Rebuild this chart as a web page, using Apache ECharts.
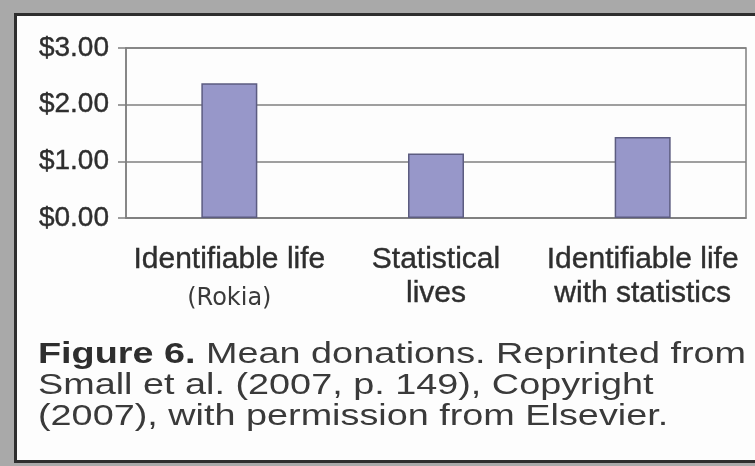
<!DOCTYPE html>
<html>
<head>
<meta charset="utf-8">
<script src="https://cdn.jsdelivr.net/npm/echarts@6/dist/echarts.min.js"></script>
<style>
  html, body { margin: 0; padding: 0; background: #a9a9a9; }
  #chart { width: 755px; height: 466px; }
</style>
</head>
<body>
<div id="chart"></div>
<script>
// Data
var categoryLine1 = ['Identifiable life', 'Statistical', 'Identifiable life'];
var categoryLine2 = ['(Rokia)', 'lives', 'with statistics'];
var meanDonations = [2.38, 1.14, 1.43];
var yTickLabels = ['$0.00', '$1.00', '$2.00', '$3.00'];
var captionBold = 'Figure 6.';
var captionLines = [
  ' Mean donations. Reprinted from',
  'Small et al. (2007, p. 149), Copyright',
  '(2007), with permission from Elsevier.'
];

var categories = categoryLine1.map(function (t, i) { return t + '\n' + categoryLine2[i]; });

var chart = echarts.init(document.getElementById('chart'), null, { renderer: 'canvas' });

var textColor = '#2e2e2e';
var lineColor = '#7f7f7f';
var capFont = 'Liberation Sans, Arial, sans-serif';
var capScale = 1.26;
var capSize = 30;
var capY = [355, 386, 417];

var option = {
  backgroundColor: '#a9a9a9',
  animation: false,
  grid: {
    left: 126, right: 9, top: 48, bottom: 248,
    show: true, borderColor: lineColor, borderWidth: 1.5,
    backgroundColor: 'transparent'
  },
  xAxis: {
    type: 'category',
    data: categories,
    axisTick: { show: false },
    axisLine: { show: true, lineStyle: { color: lineColor, width: 1.5 } },
    axisLabel: {
      margin: 25,
      interval: 0,
      formatter: function (v, i) {
        var parts = v.split('\n');
        var second = (i === 0) ? 'r' : 'a';
        return '{a|' + parts[0] + '}\n{' + second + '|' + parts[1] + '}';
      },
      rich: {
        a: { fontFamily: capFont, fontSize: 30, lineHeight: 34, color: textColor, textBorderColor: textColor, textBorderWidth: 0.4 },
        r: { fontFamily: 'DejaVu Sans, sans-serif', fontSize: 24, lineHeight: 43, color: '#3a3a3a' }
      }
    }
  },
  yAxis: {
    type: 'value',
    min: 0, max: 3, interval: 1,
    axisLine: { show: true, lineStyle: { color: lineColor, width: 1.5 } },
    axisTick: { show: true, length: 8, lineStyle: { color: lineColor, width: 1.5 } },
    splitLine: { show: true, lineStyle: { color: lineColor, width: 1.5 } },
    axisLabel: {
      margin: 17,
      fontFamily: capFont,
      fontSize: 28,
      color: textColor,
      textBorderColor: textColor,
      textBorderWidth: 0.4,
      formatter: function (v) { return yTickLabels[Math.round(v)]; }
    }
  },
  series: [{
    type: 'bar',
    data: meanDonations,
    barWidth: 56,
    itemStyle: { color: '#9797c9', borderColor: '#5c5c80', borderWidth: 1.5 }
  }],
  graphic: [
    {
      type: 'rect', z: -100, silent: true,
      shape: { x: 15.5, y: 14.5, width: 800, height: 447 },
      style: { fill: '#fdfdfd', stroke: '#2e2e2e', lineWidth: 3 }
    },
    {
      type: 'text', x: 38, y: capY[0], scaleX: capScale, z: 10,
      style: {
        text: '{b|' + captionBold + '}{n|' + captionLines[0] + '}',
        verticalAlign: 'middle',
        rich: {
          b: { fontFamily: capFont, fontSize: capSize, fontWeight: 'bold', fill: textColor },
          n: { fontFamily: capFont, fontSize: capSize, fill: '#3a3a3a' }
        }
      }
    },
    {
      type: 'text', x: 38, y: capY[1], scaleX: capScale, z: 10,
      style: { text: captionLines[1], fontFamily: capFont, fontSize: capSize, fill: '#3a3a3a', verticalAlign: 'middle' }
    },
    {
      type: 'text', x: 38, y: capY[2], scaleX: capScale, z: 10,
      style: { text: captionLines[2], fontFamily: capFont, fontSize: capSize, fill: '#3a3a3a', verticalAlign: 'middle' }
    }
  ]
};

chart.setOption(option);
</script>
</body>
</html>
